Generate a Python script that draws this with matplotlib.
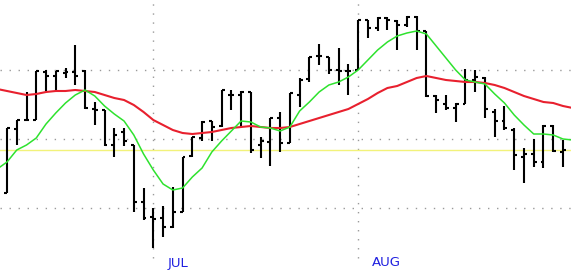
import matplotlib
matplotlib.use("Agg")
import matplotlib.pyplot as plt
import numpy as np

# OHLC values (arbitrary price units)
high = [150, 158, 186, 207, 208, 207, 210, 233, 208, 176,
        168, 150, 150, 133, 90, 70, 72, 91, 121, 141,
        157, 157, 188, 188, 187, 186, 141, 160, 166, 185,
        200, 221, 234, 221, 230, 214, 258, 258, 261, 261,
        258, 262, 262, 247, 183, 183, 175, 209, 208, 201,
        169, 172, 150, 130, 139, 153, 153, 138]
low = [85, 133, 157, 158, 187, 187, 200, 193, 169, 153,
       132, 121, 132, 66, 58, 30, 41, 50, 66, 121,
       137, 137, 151, 168, 151, 125, 120, 112, 126, 135,
       171, 196, 213, 204, 193, 183, 208, 240, 247, 248,
       228, 251, 228, 181, 165, 168, 156, 174, 186, 160,
       141, 148, 108, 95, 111, 110, 126, 111]
opens = [85, 149, 158, 158, 206, 202, 205, 206, 207, 169,
         168, 133, 146, 133, 76, 61, 60, 51, 66, 122,
         140, 157, 152, 183, 183, 186, 133, 136, 160, 135,
         183, 199, 222, 221, 208, 207, 208, 258, 250, 260,
         257, 253, 261, 247, 182, 174, 170, 174, 198, 200,
         166, 157, 148, 121, 124, 116, 152, 126]
closes = [150, 158, 158, 207, 202, 207, 206, 202, 170, 168,
          133, 143, 137, 76, 60, 59, 51, 66, 121, 141,
          156, 151, 188, 183, 186, 128, 137, 160, 135, 185,
          198, 221, 222, 208, 207, 207, 258, 250, 260, 258,
          253, 261, 247, 182, 178, 170, 174, 198, 201, 169,
          157, 150, 123, 124, 116, 152, 127, 128]

# moving averages, one value per bar plus one before and one after the visible bars
ma_fast = [109, 116, 128, 133, 140, 154, 165, 175, 183, 188,
           182, 172, 164, 157, 143, 124, 108, 94, 88, 90,
           101, 110, 126, 137, 147, 157, 156, 151, 150, 147,
           151, 167, 176, 186, 193, 196, 201, 208, 218, 228,
           236, 242, 245, 247, 244, 232, 220, 208, 198, 196,
           194, 184, 175, 163, 153, 144, 144, 143, 139, 138]
ma_slow = [189, 187, 185, 183, 184, 186, 187, 187, 188, 187,
           186, 183, 180, 178, 173, 166, 158, 153, 148, 145,
           144, 145, 146, 148, 150, 151, 152, 151, 150, 150,
           151, 154, 157, 160, 163, 166, 169, 174, 179, 185,
           190, 192, 196, 200, 202, 200, 198, 197, 196, 196,
           195, 193, 190, 186, 182, 179, 176, 175, 172, 170]

months = ["JUL", "AUG"]
month_start = [15, 36]        # bar index of first trading day
grid_levels = [70, 139, 208]
ref_level = 128

fig = plt.figure(figsize=(5.71, 2.78), dpi=100)
ax = fig.add_axes([0, 0, 1, 1])
ax.set_facecolor("white")
for s in ax.spines.values():
    s.set_visible(False)
ax.set_xticks([])
ax.set_yticks([])

px = 9.754
ax.set_xlim(-7 / px, (571 - 7) / px)
ax.set_ylim(0, 278)

grid_style = dict(color="#9a9a9a", linewidth=1.0, linestyle=(0, (1, 5.5)))
for g in grid_levels:
    ax.axhline(g, **grid_style, zorder=1)
ax.vlines(month_start, 20, 278, **grid_style, zorder=1)

ax.axhline(ref_level, color="#f2f27a", linewidth=1.0, zorder=2)

x = np.arange(len(high))
tick = 0.3
ax.vlines(x, low, high, color="black", linewidth=1.5, zorder=3)
ax.hlines(opens, x - tick, x, color="black", linewidth=1.5, zorder=3)
ax.hlines(closes, x, x + tick, color="black", linewidth=1.5, zorder=3)

xm = np.arange(-1, len(high) + 1)
ax.plot(xm, ma_slow, color="#e8202e", linewidth=1.5, zorder=4)
ax.plot(xm, ma_fast, color="#2ee22e", linewidth=1.1, zorder=5)

for name, ms in zip(months, month_start):
    ax.text(ms + 1.44, 15, name, ha="left", va="center",
            color="#2020e0", fontsize=9.5, family="DejaVu Sans")

fig.savefig("out.png", dpi=100)
